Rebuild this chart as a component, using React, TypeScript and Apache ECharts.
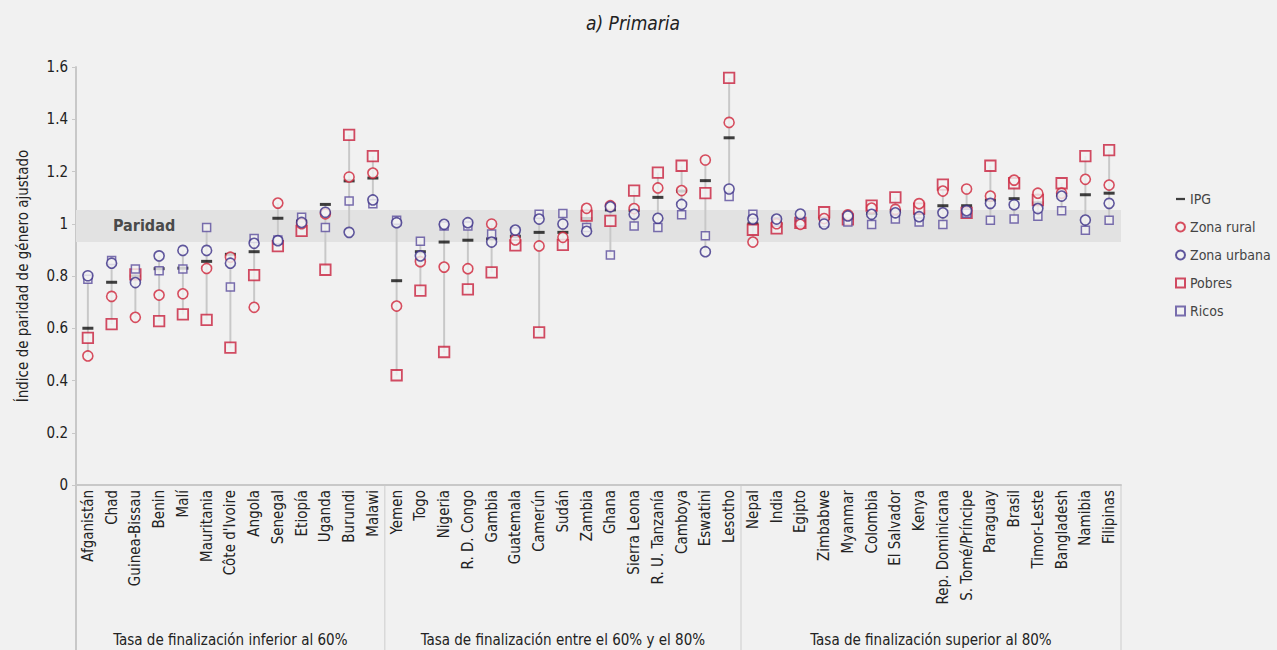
import React, { useEffect, useRef } from 'react';
import * as echarts from 'echarts';

const countries = [
  'Afganistán', 'Chad', 'Guinea-Bissau', 'Benin', 'Malí', 'Mauritania', "Côte d'Ivoire", 'Angola', 'Senegal', 'Etiopía', 'Uganda', 'Burundi', 'Malawi',
  'Yemen', 'Togo', 'Nigeria', 'R. D. Congo', 'Gambia', 'Guatemala', 'Camerún', 'Sudán', 'Zambia', 'Ghana', 'Sierra Leona', 'R. U. Tanzanía', 'Camboya', 'Eswatini', 'Lesotho',
  'Nepal', 'India', 'Egipto', 'Zimbabwe', 'Myanmar', 'Colombia', 'El Salvador', 'Kenya', 'Rep. Dominicana', 'S. Tomé/Príncipe', 'Paraguay', 'Brasil', 'Timor-Leste', 'Bangladesh', 'Namibia', 'Filipinas',
];

const groupNames = [
  'Tasa de finalización inferior al 60%',
  'Tasa de finalización entre el 60% y el 80%',
  'Tasa de finalización superior al 80%',
];
const groupSizes = [13, 15, 16];

const ipg = [
  0.60, 0.776, 0.80, 0.828, 0.83, 0.856, 0.883, 0.893, 1.021, 1.01, 1.074, 1.164, 1.175,
  0.782, 0.893, 0.930, 0.937, 0.942, 0.952, 0.967, 0.967, 1.02, 1.053, 1.05, 1.101, 1.125, 1.165, 1.329,
  1.0, 1.0, 1.01, 1.02, 1.02, 1.04, 1.05, 1.04, 1.069, 1.069, 1.09, 1.096, 1.08, 1.11, 1.111, 1.117,
];
const rural = [
  0.494, 0.722, 0.642, 0.727, 0.732, 0.829, 0.872, 0.680, 1.079, 1.0, 1.038, 1.179, 1.194,
  0.685, 0.855, 0.834, 0.828, 0.999, 0.938, 0.915, 0.948, 1.059, 1.069, 1.058, 1.137, 1.127, 1.244, 1.388,
  0.930, 1.0, 0.998, 1.02, 1.034, 1.06, 1.055, 1.077, 1.125, 1.133, 1.106, 1.167, 1.117, 1.117, 1.170, 1.148,
];
const urban = [
  0.801, 0.849, 0.775, 0.877, 0.898, 0.898, 0.849, 0.925, 0.935, 1.005, 1.044, 0.967, 1.091,
  1.004, 0.877, 0.998, 1.004, 0.930, 0.976, 1.018, 0.999, 0.971, 1.065, 1.036, 1.021, 1.074, 0.893, 1.133,
  1.018, 1.018, 1.037, 0.999, 1.03, 1.036, 1.042, 1.027, 1.042, 1.05, 1.078, 1.073, 1.058, 1.106, 1.014, 1.078,
];
const pobres = [
  0.563, 0.616, 0.806, 0.627, 0.653, 0.632, 0.526, 0.803, 0.914, 0.973, 0.824, 1.340, 1.259,
  0.420, 0.744, 0.509, 0.749, 0.814, 0.917, 0.584, 0.919, 1.031, 1.011, 1.127, 1.196, 1.222, 1.117, 1.558,
  0.977, 0.982, 1.003, 1.044, 1.017, 1.069, 1.101, 1.058, 1.150, 1.042, 1.222, 1.155, 1.091, 1.155, 1.259, 1.282,
];
const ricos = [
  0.788, 0.859, 0.827, 0.820, 0.827, 0.986, 0.758, 0.944, 0.938, 1.025, 0.986, 1.087, 1.077,
  1.013, 0.933, 0.991, 0.991, 0.961, 0.968, 1.036, 1.039, 0.986, 0.880, 0.991, 0.986, 1.034, 0.954, 1.104,
  1.036, 1.007, 1.007, 1.004, 1.007, 0.997, 1.018, 1.007, 0.997, 1.040, 1.013, 1.018, 1.029, 1.050, 0.975, 1.013,
];

const parityBand = [0.93, 1.053];
const yMin = 0;
const yMax = 1.6;
const yStep = 0.2;

const FONT = "'Liberation Sans Narrow', 'DejaVu Sans Condensed', 'Noto Sans', sans-serif";
const BG = '#f1f1f1';

export default function App() {
  const ref = useRef<HTMLDivElement>(null);

  useEffect(() => {
    const chart = echarts.init(ref.current!, null, { renderer: 'svg' });
    const ranges = countries.map((_, i) => {
      const vals = [ipg[i], rural[i], urban[i], pobres[i], ricos[i]];
      return [i, Math.min(...vals), Math.max(...vals)];
    });
    const markerFill = '#f3f3f3';

    chart.setOption({
      animation: false,
      backgroundColor: BG,
      textStyle: { fontFamily: FONT },
      title: {
        text: 'a) Primaria',
        left: 581,
        top: 8,
        textStyle: { fontFamily: FONT, fontStyle: 'italic', fontWeight: 'normal', fontSize: 19, color: '#222' },
      },
      legend: {
        orient: 'vertical',
        left: 1170,
        top: 187,
        itemGap: 14,
        itemWidth: 9,
        itemHeight: 9,
        textStyle: { fontFamily: FONT, fontSize: 14, color: '#444' },
        data: [
          { name: 'IPG', icon: 'path://M0,0H12V3H0Z' },
          'Zona rural',
          'Zona urbana',
          'Pobres',
          'Ricos',
        ],
      },
      grid: { left: 76, right: 156, top: 67, bottom: 165, containLabel: false },
      xAxis: {
        type: 'category',
        data: countries,
        boundaryGap: true,
        axisLine: { show: true, lineStyle: { color: '#c8c8c8', width: 2 } },
        axisTick: { show: false },
        axisLabel: { interval: 0, rotate: 90, fontFamily: FONT, fontSize: 15, color: '#222', margin: 5 },
      },
      yAxis: {
        type: 'value',
        min: yMin,
        max: yMax,
        interval: yStep,
        name: 'Índice de paridad de género ajustado',
        nameLocation: 'middle',
        nameGap: 46,
        nameRotate: 90,
        nameTextStyle: { fontFamily: FONT, fontSize: 15, color: '#222' },
        axisLine: { show: true, lineStyle: { color: '#c8c8c8', width: 2 } },
        axisTick: { show: true, length: 4, lineStyle: { color: '#c8c8c8' } },
        splitLine: { show: false },
        axisLabel: {
          fontFamily: FONT,
          fontSize: 15,
          color: '#222',
          margin: 8,
          formatter: (v: number) => {
            const r = Math.round(v * 10) / 10;
            return r === 0 ? '0' : r === 1 ? '1' : r.toFixed(1);
          },
        },
      },
      series: [
        {
          type: 'custom',
          name: 'rango',
          z: 1,
          data: ranges,
          encode: { x: 0, y: [1, 2] },
          renderItem: (params: any, api: any) => {
            const a = api.coord([api.value(0), api.value(1)]);
            const b = api.coord([api.value(0), api.value(2)]);
            return {
              type: 'line',
              shape: { x1: a[0], y1: a[1], x2: b[0], y2: b[1] },
              style: { stroke: '#c8c8c8', lineWidth: 2 },
            };
          },
          markArea: {
            silent: true,
            itemStyle: { color: '#e2e2e2' },
            label: {
              show: true,
              position: 'insideLeft',
              offset: [32, 0],
              fontFamily: FONT,
              fontSize: 16,
              fontWeight: 'bold',
              color: '#4a4a4a',
            },
            data: [[{ name: 'Paridad', yAxis: parityBand[0] }, { yAxis: parityBand[1] }]],
          },
        },
        {
          type: 'scatter',
          name: 'IPG',
          z: 2,
          symbol: 'rect',
          symbolSize: [11, 3],
          itemStyle: { color: '#111' },
          data: ipg.map((v, i) => [i, v]),
        },
        {
          type: 'scatter',
          name: 'Pobres',
          z: 3,
          symbol: 'rect',
          symbolSize: 10.5,
          itemStyle: { color: markerFill, borderColor: '#c8213d', borderWidth: 1.8 },
          data: pobres.map((v, i) => [i, v]),
        },
        {
          type: 'scatter',
          name: 'Ricos',
          z: 3,
          symbol: 'rect',
          symbolSize: 8,
          itemStyle: { color: markerFill, borderColor: '#5a4c9c', borderWidth: 1.5 },
          data: ricos.map((v, i) => [i, v]),
        },
        {
          type: 'scatter',
          name: 'Zona rural',
          z: 4,
          symbol: 'circle',
          symbolSize: 10,
          itemStyle: { color: markerFill, borderColor: '#d0243a', borderWidth: 1.6 },
          data: rural.map((v, i) => [i, v]),
        },
        {
          type: 'scatter',
          name: 'Zona urbana',
          z: 4,
          symbol: 'circle',
          symbolSize: 10,
          itemStyle: { color: markerFill, borderColor: '#3b2f87', borderWidth: 1.6 },
          data: urban.map((v, i) => [i, v]),
        },
      ],
    });

    // Category table below the axis
    const c0 = chart.convertToPixel({ xAxisIndex: 0 }, 0) as number;
    const c1 = chart.convertToPixel({ xAxisIndex: 0 }, 1) as number;
    const bw = c1 - c0;
    const yBase = chart.convertToPixel({ yAxisIndex: 0 }, 0) as number;
    const H = 650;
    const boundaries: number[] = [];
    let idx = 0;
    boundaries.push(c0 - bw / 2);
    groupSizes.forEach((n) => {
      idx += n;
      boundaries.push(c0 + (idx - 0.5) * bw);
    });
    const graphics: any[] = [];
    boundaries.forEach((bx, k) => {
      if (k === 0) return;
      graphics.push({
        type: 'line',
        shape: { x1: bx, y1: yBase, x2: bx, y2: H },
        style: { stroke: '#d9d9d9', lineWidth: 1.5 },
        silent: true,
      });
    });
    graphics.push({
      type: 'line',
      shape: { x1: boundaries[0], y1: yBase, x2: boundaries[0], y2: H },
      style: { stroke: '#c8c8c8', lineWidth: 2 },
      silent: true,
    });
    groupNames.forEach((g, k) => {
      const cx = (boundaries[k] + boundaries[k + 1]) / 2;
      graphics.push({
        type: 'text',
        x: cx,
        y: 640,
        style: {
          text: g,
          fontFamily: FONT,
          fontSize: 15,
          fill: '#222',
          align: 'center',
          verticalAlign: 'middle',
        },
        silent: true,
      });
    });
    chart.setOption({ graphic: graphics });

    return () => chart.dispose();
  }, []);

  return <div ref={ref} style={{ position: 'fixed', left: 0, top: 0, width: 1277, height: 650 }} />;
}
